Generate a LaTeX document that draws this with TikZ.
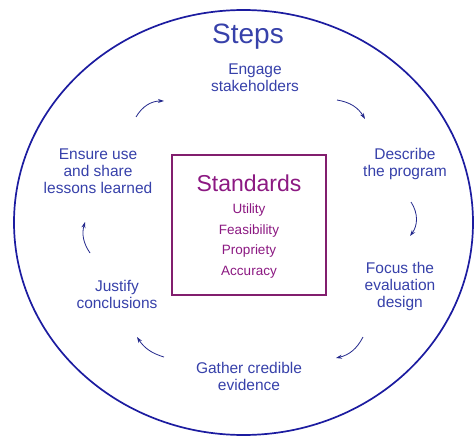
\documentclass[tikz,border=0pt]{standalone}
\usepackage{fontspec}
\setmainfont{Liberation Sans}
\usetikzlibrary{arrows.meta}
\definecolor{ringblue}{RGB}{28,28,160}
\definecolor{txtblue}{RGB}{55,65,170}
\definecolor{stdpurple}{RGB}{140,25,130}
\definecolor{boxpurple}{RGB}{130,30,110}
\definecolor{arrblue}{RGB}{35,40,140}
\tikzset{
  steptext/.style={text=txtblue, align=center, font=\fontsize{15.5}{17}\selectfont, inner sep=0pt},
  stdtext/.style={text=stdpurple, align=center, font=\fontsize{13.5}{20.5}\selectfont, inner sep=0pt},
  cyclearrow/.style={draw=arrblue, line width=0.8pt, -{Stealth[length=6pt,width=4pt]}},
}
\begin{document}
\begin{tikzpicture}[x=1pt,y=-1pt]
\useasboundingbox (0,0) rectangle (476,436);
\fill[white] (0,0) rectangle (476,436);
% outer ring
\draw[ringblue, line width=1.7pt] (243.5,222.5) ellipse [x radius=229.5, y radius=212.5];
% title
\node[text=txtblue, font=\fontsize{28}{30}\selectfont, inner sep=0pt] (title) at (248,37) {Steps};
% standards box
\node[draw=boxpurple, line width=1.3pt, minimum width=154pt, minimum height=140pt, inner sep=0pt] (box) at (249,225) {};
\node[text=stdpurple, font=\fontsize{23}{25}\selectfont, inner sep=0pt] (std) at (249,183) {Standards};
\node[stdtext] (items) at (249,241) {Utility\\Feasibility\\Propriety\\Accuracy};
% steps
\node[steptext] (engage) at (255,78) {Engage\\stakeholders};
\node[steptext] (describe) at (405,164) {Describe\\the program};
\node[steptext] (focus) at (400,286) {Focus the\\evaluation\\design};
\node[steptext] (gather) at (249,376) {Gather credible\\evidence};
\node[steptext] (justify) at (117,294) {Justify\\conclusions};
\node[steptext] (ensure) at (98,171) {Ensure use\\and share\\lessons learned};
% small cycle arrows
\coordinate (a1s) at (337,100); \coordinate (a1e) at (365,119);
\coordinate (a2s) at (411,202); \coordinate (a2e) at (410,236);
\coordinate (a3s) at (363,337); \coordinate (a3e) at (336,358);
\coordinate (a4s) at (164,357); \coordinate (a4e) at (137,337);
\coordinate (a5s) at (90,253); \coordinate (a5e) at (85,222);
\coordinate (a6s) at (136,117); \coordinate (a6e) at (164,101);
\draw[cyclearrow] (a1s) to[bend left=25] (a1e);
\draw[cyclearrow] (a2s) to[bend left=35] (a2e);
\draw[cyclearrow] (a3s) to[bend left=25] (a3e);
\draw[cyclearrow] (a4s) to[bend left=20] (a4e);
\draw[cyclearrow] (a5s) to[bend left=25] (a5e);
\draw[cyclearrow] (a6s) to[bend left=30] (a6e);
\end{tikzpicture}
\end{document}
